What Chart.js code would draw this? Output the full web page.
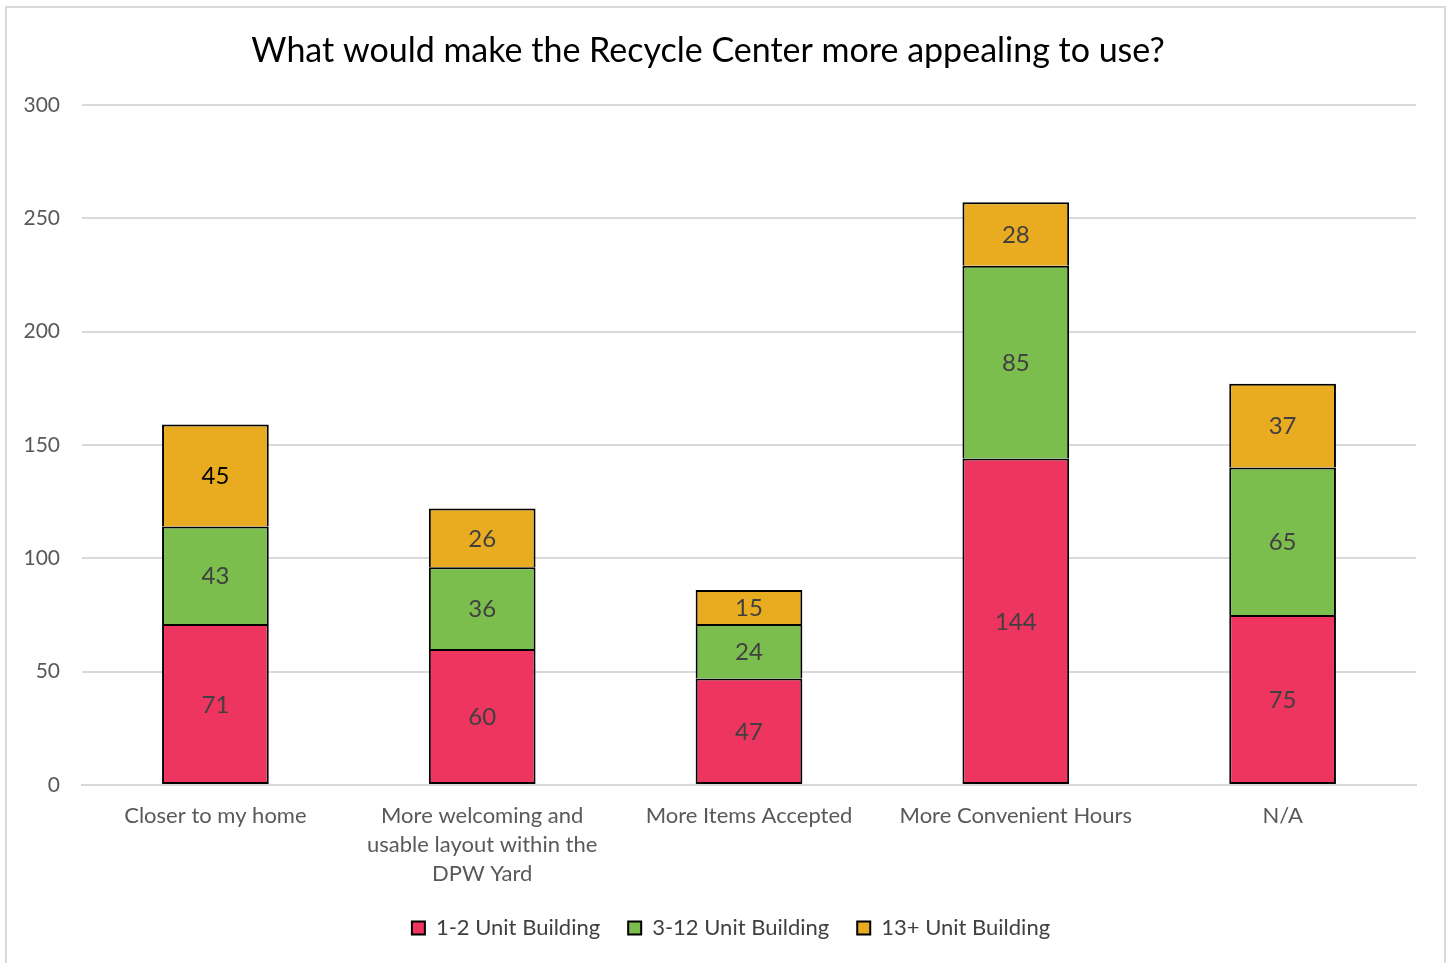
<!DOCTYPE html>
<html>
<head>
<meta charset="utf-8">
<script src="https://cdn.jsdelivr.net/npm/chart.js@4"></script>
<style>
  html, body { margin: 0; padding: 0; background: #fff; }
  body { width: 1449px; height: 963px; position: relative; overflow: hidden; }
  #frame { position: absolute; left: 5px; top: 6px; width: 1441px; height: 975px; border: 2px solid #d9d9d9; box-sizing: border-box; }
  #wrap { position: absolute; left: 0; top: 0; width: 1449px; height: 963px; }
</style>
</head>
<body>
<div id="frame"></div>
<div id="wrap"><canvas id="chart"></canvas></div>
<script>
// Survey data
const categories = [
  'Closer to my home',
  ['More welcoming and', 'usable layout within the', 'DPW Yard'],
  'More Items Accepted',
  'More Convenient Hours',
  'N/A'
];
const seriesNames = ['1-2 Unit Building', '3-12 Unit Building', '13+ Unit Building'];
const units12 = [71, 60, 47, 144, 75];
const units312 = [43, 36, 24, 85, 65];
const units13 = [45, 26, 15, 28, 37];
const yTicks = [0, 50, 100, 150, 200, 250, 300];

const FONT = 'Lato, "Open Sans", sans-serif';
const colors = {
  red: '#ee3560',
  green: '#7cbe4e',
  gold: '#e9ac21',
  text: '#595959',
  label: '#404040',
  grid: '#d9d9d9'
};

// Draws the value in the middle of every bar segment
const segmentLabels = {
  id: 'segmentLabels',
  afterDatasetsDraw(chart) {
    const ctx = chart.ctx;
    ctx.save();
    ctx.font = '24px ' + FONT;
    ctx.textAlign = 'center';
    ctx.textBaseline = 'middle';
    chart.data.datasets.forEach((ds, di) => {
      const meta = chart.getDatasetMeta(di);
      meta.data.forEach((bar, i) => {
        const props = bar.getProps(['x', 'y', 'base'], true);
        ctx.fillStyle = (di === 2 && i === 0) ? '#000' : colors.label;
        ctx.fillText(String(ds.data[i]), props.x, (props.y + props.base) / 2 + 1);
      });
    });
    ctx.restore();
  }
};

// legend sits a bit right of the plot centre in the original
const legendShift = {
  id: 'legendShift',
  afterLayout(chart) {
    if (!chart.legend) return;
    chart.legend.left += 23;
    chart.legend.right += 23;
  }
};

// bottom segment gets a full outline, upper ones skip their bottom edge
function barStyle(skip) {
  return { borderColor: '#000', borderWidth: 2, borderSkipped: skip, barPercentage: 0.4, categoryPercentage: 1 };
}

new Chart(document.getElementById('chart'), {
  type: 'bar',
  data: {
    labels: categories,
    datasets: [
      Object.assign({ label: seriesNames[0], data: units12, backgroundColor: colors.red }, barStyle(false)),
      Object.assign({ label: seriesNames[1], data: units312, backgroundColor: colors.green }, barStyle('bottom')),
      Object.assign({ label: seriesNames[2], data: units13, backgroundColor: colors.gold }, barStyle('bottom'))
    ]
  },
  options: {
    responsive: true,
    maintainAspectRatio: false,
    animation: false,
    layout: { padding: { left: 0, right: 33, top: 0, bottom: 14 } },
    plugins: {
      title: {
        display: true,
        text: 'What would make the Recycle Center more appealing to use?',
        color: '#000',
        font: { family: FONT, size: 34, weight: 'normal' },
        padding: { top: 31, bottom: 33 }
      },
      legend: {
        position: 'bottom',
        labels: {
          color: colors.label,
          font: { family: FONT, size: 22 },
          boxWidth: 13,
          boxHeight: 13,
          padding: 28
        }
      },
      tooltip: { enabled: false }
    },
    scales: {
      x: {
        stacked: true,
        grid: { display: false },
        border: { color: colors.grid, width: 2 },
        afterFit: (scale) => { scale.height = 104; },
        ticks: { color: colors.text, font: { family: FONT, size: 22, lineHeight: 1.32 }, padding: 8, maxRotation: 0, autoSkip: false }
      },
      y: {
        stacked: true,
        min: 0,
        max: 300,
        afterBuildTicks: (scale) => { scale.ticks = yTicks.map(v => ({ value: v })); },
        afterFit: (scale) => { scale.width = 82; },
        grid: { color: colors.grid, lineWidth: 2, drawTicks: false },
        border: { display: false },
        ticks: { color: colors.text, font: { family: FONT, size: 21 }, padding: 22 }
      }
    }
  },
  plugins: [segmentLabels, legendShift]
});
</script>
</body>
</html>
